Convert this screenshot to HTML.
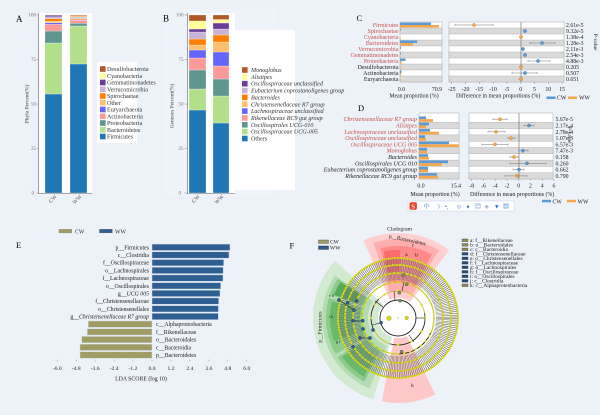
<!DOCTYPE html>
<html><head><meta charset="utf-8"><style>
html,body{margin:0;padding:0;background:#edf1f8;}
svg{display:block;}
text{font-family:"Liberation Serif","Noto Serif CJK SC",serif;}
</style></head><body>
<svg width="600" height="419" viewBox="0 0 600 419" xmlns="http://www.w3.org/2000/svg">
<rect x="0" y="0" width="600" height="419" fill="#edf1f8"/>
<rect x="0" y="415" width="600" height="4" fill="#ffffff"/>
<rect x="162" y="8" width="115" height="190" fill="#eef2f9" stroke="#e6eaf2" stroke-width="0.5"/>

<!-- ================= PANEL A ================= -->
<text x="16" y="22" font-size="9">A</text>
<rect x="39" y="13" width="53" height="180" fill="#fff"/>
<line x1="38.5" y1="13" x2="38.5" y2="193.5" stroke="#8a8a8a" stroke-width="0.8"/>
<line x1="38" y1="193.5" x2="92" y2="193.5" stroke="#8a8a8a" stroke-width="0.8"/>
<g stroke="#8a8a8a" stroke-width="0.5">
<line x1="36.5" y1="15" x2="38.5" y2="15"/><line x1="36.5" y1="59.5" x2="38.5" y2="59.5"/><line x1="36.5" y1="104" x2="38.5" y2="104"/><line x1="36.5" y1="148.5" x2="38.5" y2="148.5"/><line x1="36.5" y1="193" x2="38.5" y2="193"/>
</g>
<g font-size="5" fill="#777" text-anchor="end">
<text x="36" y="16.7">100</text><text x="36" y="61.2">75</text><text x="36" y="105.7">50</text><text x="36" y="150.2">25</text><text x="34" y="194.7">0</text>
</g>
<text transform="translate(28.5,104) rotate(-90)" font-size="5.5" fill="#444" text-anchor="middle">Phyla Percent(%)</text>
<g stroke="#fff" stroke-width="0.25">
<rect x="45" y="94" width="17" height="99" fill="#1f78b4"/>
<rect x="45" y="43" width="17" height="51" fill="#b2df8a"/>
<rect x="45" y="31" width="17" height="12" fill="#5f968f"/>
<rect x="45" y="24.3" width="17" height="6.7" fill="#fb9a99"/>
<rect x="45" y="22.7" width="17" height="1.6" fill="#6666ff"/>
<rect x="45" y="21.3" width="17" height="1.4" fill="#fdbf6f"/>
<rect x="45" y="18.7" width="17" height="2.6" fill="#ff7f00"/>
<rect x="45" y="16.7" width="17" height="2" fill="#cab2d6"/>
<rect x="45" y="15.2" width="17" height="1.5" fill="#6a3d9a"/>
<rect x="45" y="15" width="17" height="0.3" fill="#b15928"/>
<rect x="70" y="64" width="17" height="129" fill="#1f78b4"/>
<rect x="70" y="26" width="17" height="38" fill="#b2df8a"/>
<rect x="70" y="23.3" width="17" height="2.7" fill="#5f968f"/>
<rect x="70" y="20.2" width="17" height="3.1" fill="#fb9a99"/>
<rect x="70" y="19.7" width="17" height="0.5" fill="#6666ff"/>
<rect x="70" y="18.7" width="17" height="1" fill="#ff7f00"/>
<rect x="70" y="17.9" width="17" height="0.8" fill="#cab2d6"/>
<rect x="70" y="17.3" width="17" height="0.6" fill="#6a3d9a"/>
<rect x="70" y="16" width="17" height="1.3" fill="#fdbf6f"/>
<rect x="70" y="15" width="17" height="1" fill="#d9864a"/>
</g>
<g font-size="5.5" fill="#555" text-anchor="end">
<text transform="translate(57,197) rotate(-45)">CW</text>
<text transform="translate(82,197) rotate(-45)">WW</text>
</g>
<!-- legend A -->
<rect x="97" y="62" width="40" height="81" fill="#fff"/>
<g font-size="6.1" fill="#333">
<rect x="100" y="66.2" width="5.6" height="5.6" fill="#b15928"/><text x="107" y="71">Desulfobacterota</text>
<rect x="100" y="72.95" width="5.6" height="5.6" fill="#ffff99"/><text x="107" y="77.75">Cyanobacteria</text>
<rect x="100" y="79.7" width="5.6" height="5.6" fill="#6a3d9a"/><text x="107" y="84.5">Gemmatimonadetes</text>
<rect x="100" y="86.45" width="5.6" height="5.6" fill="#cab2d6"/><text x="107" y="91.25">Verrucomicrobia</text>
<rect x="100" y="93.2" width="5.6" height="5.6" fill="#ff7f00"/><text x="107" y="98">Spirochaetae</text>
<rect x="100" y="99.95" width="5.6" height="5.6" fill="#fdbf6f"/><text x="107" y="104.75">Other</text>
<rect x="100" y="106.7" width="5.6" height="5.6" fill="#6666ff"/><text x="107" y="111.5">Euryarchaeota</text>
<rect x="100" y="113.45" width="5.6" height="5.6" fill="#fb9a99"/><text x="107" y="118.25">Actinobacteria</text>
<rect x="100" y="120.2" width="5.6" height="5.6" fill="#5f968f"/><text x="107" y="125">Proteobacteria</text>
<rect x="100" y="126.95" width="5.6" height="5.6" fill="#b2df8a"/><text x="107" y="131.75">Bacteroidetes</text>
<rect x="100" y="133.7" width="5.6" height="5.6" fill="#1f78b4"/><text x="107" y="138.5">Firmicutes</text>
</g>

<!-- ================= PANEL B ================= -->
<text x="163" y="21.5" font-size="9">B</text>
<rect x="188" y="13" width="47" height="180" fill="#fff"/>
<rect x="235" y="30" width="60" height="160" fill="#fff"/>
<line x1="187.5" y1="13" x2="187.5" y2="193.5" stroke="#8a8a8a" stroke-width="0.8"/>
<line x1="187" y1="193.5" x2="235" y2="193.5" stroke="#8a8a8a" stroke-width="0.8"/>
<g stroke="#8a8a8a" stroke-width="0.5">
<line x1="184.5" y1="15" x2="187.5" y2="15"/><line x1="184.5" y1="59.5" x2="187.5" y2="59.5"/><line x1="184.5" y1="104" x2="187.5" y2="104"/><line x1="184.5" y1="148.5" x2="187.5" y2="148.5"/><line x1="184.5" y1="193" x2="187.5" y2="193"/>
</g>
<g font-size="5" fill="#777" text-anchor="end">
<text x="183.5" y="16.7">100</text><text x="183.5" y="61.2">75</text><text x="183.5" y="105.7">50</text><text x="183.5" y="150.2">25</text><text x="181" y="194.7">0</text>
</g>
<text transform="translate(173.5,106) rotate(-90)" font-size="5.5" fill="#444" text-anchor="middle">Genuses Percent(%)</text>
<g stroke="#fff" stroke-width="0.25">
<rect x="189" y="110" width="17" height="83" fill="#1f78b4"/>
<rect x="189" y="89" width="17" height="21" fill="#b2df8a"/>
<rect x="189" y="70" width="17" height="19" fill="#5f968f"/>
<rect x="189" y="58" width="17" height="12" fill="#fb9a99"/>
<rect x="189" y="50" width="17" height="8" fill="#6666ff"/>
<rect x="189" y="45" width="17" height="5" fill="#fdbf6f"/>
<rect x="189" y="39" width="17" height="6" fill="#ff7f00"/>
<rect x="189" y="32" width="17" height="7" fill="#cab2d6"/>
<rect x="189" y="29" width="17" height="3" fill="#6a3d9a"/>
<rect x="189" y="21" width="17" height="8" fill="#ffff99"/>
<rect x="189" y="15" width="17" height="6" fill="#b15928"/>
<rect x="213" y="123" width="16" height="70" fill="#1f78b4"/>
<rect x="213" y="96" width="16" height="27" fill="#b2df8a"/>
<rect x="213" y="79" width="16" height="17" fill="#5f968f"/>
<rect x="213" y="66" width="16" height="13" fill="#fb9a99"/>
<rect x="213" y="52" width="16" height="14" fill="#6666ff"/>
<rect x="213" y="42" width="16" height="10" fill="#fdbf6f"/>
<rect x="213" y="35" width="16" height="7" fill="#ff7f00"/>
<rect x="213" y="29" width="16" height="6" fill="#cab2d6"/>
<rect x="213" y="23" width="16" height="6" fill="#6a3d9a"/>
<rect x="213" y="19.5" width="16" height="3.5" fill="#ffff99"/>
<rect x="213" y="15" width="16" height="4.5" fill="#b15928"/>
</g>
<g font-size="5.5" fill="#555" text-anchor="end">
<text transform="translate(200,197) rotate(-45)">CW</text>
<text transform="translate(224,197) rotate(-45)">WW</text>
</g>
<g font-size="6.1" fill="#333" font-style="italic">
<rect x="242" y="67.2" width="5.6" height="5.6" fill="#b15928"/><text x="251" y="72">Monoglobus</text>
<rect x="242" y="74.05" width="5.6" height="5.6" fill="#ffff99"/><text x="251" y="78.85">Alistipes</text>
<rect x="242" y="80.9" width="5.6" height="5.6" fill="#6a3d9a"/><text x="251" y="85.7">Oscillospiraceae unclassified</text>
<rect x="242" y="87.75" width="5.6" height="5.6" fill="#cab2d6"/><text x="251" y="92.55">Eubacterium coprostanoligenes group</text>
<rect x="242" y="94.6" width="5.6" height="5.6" fill="#ff7f00"/><text x="251" y="99.4">Bacteroides</text>
<rect x="242" y="101.45" width="5.6" height="5.6" fill="#fdbf6f"/><text x="251" y="106.25">Christensenellaceae R7 group</text>
<rect x="242" y="108.3" width="5.6" height="5.6" fill="#6666ff"/><text x="251" y="113.1">Lachnospiraceae unclassified</text>
<rect x="242" y="115.15" width="5.6" height="5.6" fill="#fb9a99"/><text x="251" y="119.95">Rikenellaceae RC9 gut group</text>
<rect x="242" y="122" width="5.6" height="5.6" fill="#5f968f"/><text x="251" y="126.8">Oscillospirales UCG-010</text>
<rect x="242" y="128.85" width="5.6" height="5.6" fill="#b2df8a"/><text x="251" y="133.65">Oscillospiraceae UCG-005</text>
<rect x="242" y="135.7" width="5.6" height="5.6" fill="#1f78b4"/><text x="251" y="140.5" font-style="normal">Others</text>
</g>

<!-- legend for E -->
<rect x="59" y="229.3" width="12.7" height="3.6" fill="#a09d64" stroke="#777" stroke-width="0.3"/>
<text x="75" y="233.6" font-size="5.8" fill="#333">CW</text>
<rect x="99.5" y="229.3" width="12.8" height="3.6" fill="#2d5f92" stroke="#555" stroke-width="0.3"/>
<text x="115" y="233.6" font-size="5.8" fill="#333">WW</text>

<!-- ================= PANEL C ================= -->
<text x="356.5" y="21" font-size="8.5">C</text>
<rect x="400" y="22" width="42" height="60" fill="#fff" stroke="#999" stroke-width="0.4"/>
<rect x="449" y="22" width="115" height="60" fill="#fff" stroke="#999" stroke-width="0.4"/>
<g fill="#dadada" stroke="#a8a8a8" stroke-width="0.4">
<rect x="400" y="28" width="42" height="6"/><rect x="400" y="40" width="42" height="6"/><rect x="400" y="52" width="42" height="6"/><rect x="400" y="64" width="42" height="6"/><rect x="400" y="76" width="42" height="6"/>
<rect x="449" y="28" width="115" height="6"/><rect x="449" y="40" width="115" height="6"/><rect x="449" y="52" width="115" height="6"/><rect x="449" y="64" width="115" height="6"/><rect x="449" y="76" width="115" height="6"/>
</g>
<g>
<rect x="400" y="22.5" width="31" height="2.5" fill="#5b9bd5"/><rect x="400" y="25" width="39" height="2.5" fill="#f5a54a"/>
<rect x="400" y="28.5" width="0.7" height="2.5" fill="#5b9bd5"/>
<rect x="400" y="37" width="0.7" height="2.5" fill="#f5a54a"/>
<rect x="400" y="40.5" width="17" height="2.5" fill="#5b9bd5"/><rect x="400" y="43" width="13" height="2.5" fill="#f5a54a"/>
<rect x="400" y="46.5" width="0.9" height="2.5" fill="#5b9bd5"/>
<rect x="400" y="52.5" width="0.7" height="2.5" fill="#5b9bd5"/>
<rect x="400" y="58.5" width="5.5" height="2.5" fill="#5b9bd5"/><rect x="400" y="61" width="1.5" height="2.5" fill="#f5a54a"/>
<rect x="400" y="67" width="0.6" height="2.5" fill="#f5a54a"/>
<rect x="400" y="70.5" width="1.5" height="2.5" fill="#5b9bd5"/><rect x="400" y="73" width="1" height="2.5" fill="#f5a54a"/>
<rect x="400" y="79" width="0.6" height="2.5" fill="#f5a54a"/>
</g>
<g font-size="6" text-anchor="end">
<text x="398.5" y="27" fill="#c8504e">Firmicutes</text>
<text x="398.5" y="33" fill="#c8504e">Spirochaetae</text>
<text x="398.5" y="39" fill="#c8504e">Cyanobacteria</text>
<text x="398.5" y="45" fill="#c8504e">Bacteroidetes</text>
<text x="398.5" y="51" fill="#c8504e">Verrucomicrobia</text>
<text x="398.5" y="57" fill="#c8504e">Gemmatimonadetes</text>
<text x="398.5" y="63" fill="#c8504e">Proteobacteria</text>
<text x="398.5" y="69" fill="#222">Desulfobacterota</text>
<text x="398.5" y="75" fill="#222">Actinobacteria</text>
<text x="398.5" y="81" fill="#222">Euryarchaeota</text>
</g>
<line x1="521" y1="22" x2="521" y2="82" stroke="#666" stroke-width="0.6"/>
<g stroke="#777" stroke-width="0.5">
<line x1="455" y1="25" x2="493" y2="25"/><line x1="455" y1="24" x2="455" y2="26"/><line x1="493" y1="24" x2="493" y2="26"/>
<line x1="530" y1="43" x2="555" y2="43"/><line x1="530" y1="42" x2="530" y2="44"/><line x1="555" y1="42" x2="555" y2="44"/>
<line x1="528" y1="61" x2="550" y2="61"/><line x1="528" y1="60" x2="528" y2="62"/><line x1="550" y1="60" x2="550" y2="62"/>
<line x1="512" y1="73" x2="537" y2="73"/><line x1="512" y1="72" x2="512" y2="74"/><line x1="537" y1="72" x2="537" y2="74"/>
<line x1="518" y1="79" x2="523" y2="79"/><line x1="523" y1="55" x2="527" y2="55"/><line x1="519" y1="67" x2="523" y2="67"/>
</g>
<g stroke-width="0.4">
<circle cx="474" cy="25" r="1.6" fill="#f5a54a" stroke="#c77d20"/>
<circle cx="525" cy="31" r="1.6" fill="#5b9bd5" stroke="#3a6f9e"/>
<circle cx="521" cy="37" r="1.6" fill="#f5a54a" stroke="#c77d20"/>
<circle cx="542" cy="43" r="1.6" fill="#5b9bd5" stroke="#3a6f9e"/>
<circle cx="523" cy="49" r="1.6" fill="#5b9bd5" stroke="#3a6f9e"/>
<circle cx="525" cy="55" r="1.6" fill="#5b9bd5" stroke="#3a6f9e"/>
<circle cx="538" cy="61" r="1.6" fill="#5b9bd5" stroke="#3a6f9e"/>
<circle cx="521" cy="67" r="1.6" fill="#f5a54a" stroke="#c77d20"/>
<circle cx="525" cy="73" r="1.6" fill="#5b9bd5" stroke="#3a6f9e"/>
<circle cx="521" cy="79" r="1.6" fill="#f5a54a" stroke="#c77d20"/>
</g>
<g font-size="5.8" fill="#222">
<text x="566" y="27">2.61e-5</text><text x="566" y="33">9.32e-5</text><text x="566" y="39">1.38e-4</text><text x="566" y="45">1.28e-3</text><text x="566" y="51">2.11e-3</text><text x="566" y="57">2.54e-3</text><text x="566" y="63">4.88e-3</text><text x="566" y="69">0.205</text><text x="566" y="75">0.507</text><text x="566" y="81">0.651</text>
</g>
<text transform="translate(594,42) rotate(90)" font-size="5.5" fill="#222" text-anchor="middle">P-value</text>
<g stroke="#777" stroke-width="0.4">
<line x1="451.7" y1="82" x2="451.7" y2="84"/><line x1="465.5" y1="82" x2="465.5" y2="84"/><line x1="479.3" y1="82" x2="479.3" y2="84"/><line x1="493.1" y1="82" x2="493.1" y2="84"/><line x1="506.9" y1="82" x2="506.9" y2="84"/><line x1="520.7" y1="82" x2="520.7" y2="84"/><line x1="534.5" y1="82" x2="534.5" y2="84"/><line x1="548.3" y1="82" x2="548.3" y2="84"/><line x1="562.1" y1="82" x2="562.1" y2="84"/>
</g>
<g font-size="5.8" fill="#222" text-anchor="middle">
<text x="401.5" y="91">0.0</text><text x="437" y="91">70.9</text>
<text x="451.7" y="91">-25</text><text x="465.5" y="91">-20</text><text x="479.3" y="91">-15</text><text x="493.1" y="91">-10</text><text x="506.9" y="91">-5</text><text x="520.7" y="91">0</text><text x="534.5" y="91">5</text><text x="548.3" y="91">10</text><text x="562.1" y="91">15</text>
<text x="414" y="97.5">Mean proportion (%)</text>
</g>
<text x="456" y="97.5" font-size="5.9" fill="#222">Difference in mean proportions (%)</text>
<rect x="546.5" y="96.5" width="9" height="2.5" fill="#5b9bd5"/><text x="557" y="99.5" font-size="5.8" fill="#222">CW</text>
<rect x="568" y="96.5" width="9" height="2.5" fill="#f5a54a"/><text x="579" y="99.5" font-size="5.8" fill="#222">WW</text>

<!-- ================= PANEL D ================= -->
<text x="358" y="111" font-size="8.5">D</text>
<rect x="419" y="113" width="40" height="66" fill="#fff" stroke="#999" stroke-width="0.4"/>
<rect x="469" y="113" width="84" height="66" fill="#fff" stroke="#999" stroke-width="0.4"/>
<g fill="#dadada" stroke="#a8a8a8" stroke-width="0.4">
<rect x="419" y="122.3" width="40" height="6.3"/><rect x="419" y="134.9" width="40" height="6.3"/><rect x="419" y="147.5" width="40" height="6.3"/><rect x="419" y="160.1" width="40" height="6.3"/><rect x="419" y="172.7" width="40" height="6.3"/>
<rect x="469" y="122.3" width="84" height="6.3"/><rect x="469" y="134.9" width="84" height="6.3"/><rect x="469" y="147.5" width="84" height="6.3"/><rect x="469" y="160.1" width="84" height="6.3"/><rect x="469" y="172.7" width="84" height="6.3"/>
</g>
<g>
<rect x="419" y="116.4" width="7" height="2.7" fill="#5b9bd5"/><rect x="419" y="119.1" width="14" height="2.7" fill="#f5a54a"/>
<rect x="419" y="122.7" width="10" height="2.7" fill="#5b9bd5"/><rect x="419" y="125.4" width="7" height="2.7" fill="#f5a54a"/>
<rect x="419" y="129" width="11" height="2.7" fill="#5b9bd5"/><rect x="419" y="131.7" width="20" height="2.7" fill="#f5a54a"/>
<rect x="419" y="135.3" width="6" height="2.7" fill="#5b9bd5"/><rect x="419" y="138" width="7" height="2.7" fill="#f5a54a"/>
<rect x="419" y="141.6" width="30" height="2.7" fill="#5b9bd5"/><rect x="419" y="144.3" width="40" height="2.7" fill="#f5a54a"/>
<rect x="419" y="147.9" width="8" height="2.7" fill="#5b9bd5"/><rect x="419" y="150.6" width="8" height="2.7" fill="#f5a54a"/>
<rect x="419" y="154.2" width="9" height="2.7" fill="#5b9bd5"/><rect x="419" y="156.9" width="10" height="2.7" fill="#f5a54a"/>
<rect x="419" y="160.5" width="29" height="2.7" fill="#5b9bd5"/><rect x="419" y="163.2" width="23" height="2.7" fill="#f5a54a"/>
<rect x="419" y="166.8" width="9" height="2.7" fill="#5b9bd5"/><rect x="419" y="169.5" width="9" height="2.7" fill="#f5a54a"/>
<rect x="419" y="173.1" width="18" height="2.7" fill="#5b9bd5"/><rect x="419" y="175.8" width="19" height="2.7" fill="#f5a54a"/>
</g>
<g font-size="6.1" text-anchor="end" font-style="italic">
<text x="417" y="121.2" fill="#c8504e">Christensenellaceae R7 group</text>
<text x="417" y="127.5" fill="#c8504e">Alistipes</text>
<text x="417" y="133.8" fill="#c8504e">Lachnospiraceae unclassified</text>
<text x="417" y="140.1" fill="#c8504e">Oscillospiraceae unclassified</text>
<text x="417" y="146.4" fill="#c8504e">Oscillospiraceae UCG 005</text>
<text x="417" y="152.7" fill="#c8504e">Monoglobus</text>
<text x="417" y="159" fill="#222">Bacteroides</text>
<text x="417" y="165.3" fill="#222">Oscillospirales UCG 010</text>
<text x="417" y="171.6" fill="#222">Eubacterium coprostanoligenes group</text>
<text x="417" y="177.9" fill="#222">Rikenellaceae RC9 gut group</text>
</g>
<line x1="519" y1="113" x2="519" y2="179" stroke="#666" stroke-width="0.6"/>
<g stroke="#777" stroke-width="0.5">
<line x1="493" y1="119.2" x2="507" y2="119.2"/><line x1="493" y1="118.2" x2="493" y2="120.2"/><line x1="507" y1="118.2" x2="507" y2="120.2"/>
<line x1="524" y1="125.5" x2="534" y2="125.5"/><line x1="524" y1="124.5" x2="524" y2="126.5"/><line x1="534" y1="124.5" x2="534" y2="126.5"/>
<line x1="488" y1="131.8" x2="505" y2="131.8"/><line x1="488" y1="130.8" x2="488" y2="132.8"/><line x1="505" y1="130.8" x2="505" y2="132.8"/>
<line x1="508" y1="138.1" x2="515" y2="138.1"/><line x1="508" y1="137.1" x2="508" y2="139.1"/><line x1="515" y1="137.1" x2="515" y2="139.1"/>
<line x1="482" y1="144.4" x2="508" y2="144.4"/><line x1="482" y1="143.4" x2="482" y2="145.4"/><line x1="508" y1="143.4" x2="508" y2="145.4"/>
<line x1="519" y1="150.7" x2="528" y2="150.7"/><line x1="519" y1="149.7" x2="519" y2="151.7"/><line x1="528" y1="149.7" x2="528" y2="151.7"/>
<line x1="510" y1="157" x2="518" y2="157"/><line x1="510" y1="156" x2="510" y2="158"/><line x1="518" y1="156" x2="518" y2="158"/>
<line x1="510" y1="163.3" x2="546" y2="163.3"/><line x1="510" y1="162.3" x2="510" y2="164.3"/><line x1="546" y1="162.3" x2="546" y2="164.3"/>
<line x1="513" y1="169.6" x2="524" y2="169.6"/><line x1="513" y1="168.6" x2="513" y2="170.6"/><line x1="524" y1="168.6" x2="524" y2="170.6"/>
<line x1="505" y1="175.9" x2="527" y2="175.9"/><line x1="505" y1="174.9" x2="505" y2="176.9"/><line x1="527" y1="174.9" x2="527" y2="176.9"/>
</g>
<g stroke-width="0.4">
<circle cx="500" cy="119.2" r="1.6" fill="#f5a54a" stroke="#c77d20"/>
<circle cx="529" cy="125.5" r="1.6" fill="#5b9bd5" stroke="#3a6f9e"/>
<circle cx="496" cy="131.8" r="1.6" fill="#f5a54a" stroke="#c77d20"/>
<circle cx="511" cy="138.1" r="1.6" fill="#f5a54a" stroke="#c77d20"/>
<circle cx="495" cy="144.4" r="1.6" fill="#f5a54a" stroke="#c77d20"/>
<circle cx="523" cy="150.7" r="1.6" fill="#5b9bd5" stroke="#3a6f9e"/>
<circle cx="514" cy="157" r="1.6" fill="#f5a54a" stroke="#c77d20"/>
<circle cx="527" cy="163.3" r="1.6" fill="#5b9bd5" stroke="#3a6f9e"/>
<circle cx="519" cy="169.6" r="1.6" fill="#5b9bd5" stroke="#3a6f9e"/>
<circle cx="517" cy="175.9" r="1.6" fill="#f5a54a" stroke="#c77d20"/>
</g>
<g font-size="5.8" fill="#222">
<text x="555.5" y="121.2">5.67e-5</text><text x="555.5" y="127.5">2.17e-4</text><text x="555.5" y="133.8">2.78e-4</text><text x="555.5" y="140.1">1.07e-3</text><text x="555.5" y="146.4">6.57e-3</text><text x="555.5" y="152.7">7.47e-3</text><text x="555.5" y="159">0.158</text><text x="555.5" y="165.3">0.260</text><text x="555.5" y="171.6">0.662</text><text x="555.5" y="177.9">0.790</text>
</g>
<text transform="translate(568,135) rotate(90)" font-size="5.5" fill="#222" text-anchor="middle">P-value</text>
<g stroke="#777" stroke-width="0.4">
<line x1="471.7" y1="179" x2="471.7" y2="181"/><line x1="483.5" y1="179" x2="483.5" y2="181"/><line x1="495.2" y1="179" x2="495.2" y2="181"/><line x1="507" y1="179" x2="507" y2="181"/><line x1="518.7" y1="179" x2="518.7" y2="181"/><line x1="530.5" y1="179" x2="530.5" y2="181"/><line x1="542.2" y1="179" x2="542.2" y2="181"/><line x1="554" y1="179" x2="554" y2="181"/>
</g>
<g font-size="5.8" fill="#222" text-anchor="middle">
<text x="421" y="187.7">0.0</text><text x="456" y="187.7">15.4</text>
<text x="471.7" y="187.7">-8</text><text x="483.5" y="187.7">-6</text><text x="495.2" y="187.7">-4</text><text x="507" y="187.7">-2</text><text x="518.7" y="187.7">0</text><text x="530.5" y="187.7">2</text><text x="542.2" y="187.7">4</text><text x="554" y="187.7">6</text>
<text x="435" y="196">Mean proportion (%)</text>
</g>
<text x="470" y="196" font-size="5.9" fill="#222">Difference in mean proportions (%)</text>
<rect x="542" y="199.8" width="9" height="2.5" fill="#5b9bd5"/><text x="552.5" y="203.3" font-size="5.8" fill="#222">CW</text>
<rect x="567" y="199.8" width="9" height="2.5" fill="#f5a54a"/><text x="577.5" y="203.3" font-size="5.8" fill="#222">WW</text>

<!-- toolbar -->
<rect x="408" y="201" width="106" height="10" fill="#fff" stroke="#c5cfe2" stroke-width="0.5"/>
<rect x="409.5" y="202.3" width="7.4" height="7.4" rx="1.6" fill="#e8442d"/>
<text x="413.2" y="208.6" font-size="6.5" font-weight="bold" fill="#fff" text-anchor="middle" font-family="'Liberation Sans',sans-serif">S</text>
<g font-size="6" fill="#2a72d8" text-anchor="middle" font-family="'DejaVu Sans','Noto Sans CJK SC',sans-serif">
<text x="426.7" y="208.3" font-family="'Noto Sans CJK SC',sans-serif">中</text>
<text x="437.7" y="208.3">☽</text>
<text x="446.7" y="208.3">•,</text>
<text x="459" y="208.3">☺</text>
<text x="468" y="208.3">♦</text>
<text x="478" y="208.3">▤</text>
<text x="486.7" y="208.3" fill="#9aa8bd">♣</text>
<text x="496.7" y="208.3">▼</text>
<text x="506" y="208.3">▦</text>
</g>

<!-- ================= PANEL E ================= -->
<text x="16" y="248" font-size="8.5">E</text>
<g fill="#2d5f92" stroke="#d4dbe7" stroke-width="0.5">
<rect x="152" y="244.1" width="78" height="6.4"/>
<rect x="152" y="251.8" width="77" height="6.4"/>
<rect x="152" y="259.5" width="71.7" height="6.4"/>
<rect x="152" y="267.2" width="71.2" height="6.4"/>
<rect x="152" y="274.9" width="71" height="6.4"/>
<rect x="152" y="282.6" width="68.7" height="6.4"/>
<rect x="152" y="290.2" width="68" height="6.4"/>
<rect x="152" y="297.9" width="66.7" height="6.4"/>
<rect x="152" y="305.6" width="66.4" height="6.4"/>
<rect x="152" y="313.3" width="66.3" height="6.4"/>
</g>
<g fill="#a09d64" stroke="#d4dbe7" stroke-width="0.5">
<rect x="88.3" y="321" width="63.7" height="6.4"/>
<rect x="87.3" y="328.7" width="64.7" height="6.4"/>
<rect x="81.7" y="336.4" width="70.3" height="6.4"/>
<rect x="80" y="344.1" width="72" height="6.4"/>
<rect x="80" y="351.8" width="72" height="6.4"/>
</g>
<g font-size="5.8" fill="#222" text-anchor="end">
<text x="149" y="249.3">p__Firmicutes</text>
<text x="149" y="257">c__Clostridia</text>
<text x="149" y="264.7">f__Oscillospiraceae</text>
<text x="149" y="272.4">o__Lachnospirales</text>
<text x="149" y="280.1">f__Lachnospiraceae</text>
<text x="149" y="287.8">o__Oscillospirales</text>
<text x="149" y="295.4">g__<tspan font-style="italic">UCG 005</tspan></text>
<text x="149" y="303.1">f__Christensenellaceae</text>
<text x="149" y="310.8">o__Christensenellales</text>
<text x="149" y="318.5">g__<tspan font-style="italic">Christensenellaceae R7 group</tspan></text>
</g>
<g font-size="5.8" fill="#222">
<text x="156" y="326.2">c__Alphaproteobacteria</text>
<text x="156" y="333.9">f__Rikenellaceae</text>
<text x="156" y="341.6">o__Bacteroidales</text>
<text x="156" y="349.3">c__Bacteroidia</text>
<text x="156" y="357">p__Bacteroidetes</text>
</g>
<g stroke="#888" stroke-width="0.4">
<line x1="57.2" y1="359.5" x2="57.2" y2="361.5"/><line x1="76.2" y1="359.5" x2="76.2" y2="361.5"/><line x1="95.1" y1="359.5" x2="95.1" y2="361.5"/><line x1="114.1" y1="359.5" x2="114.1" y2="361.5"/><line x1="133" y1="359.5" x2="133" y2="361.5"/><line x1="152" y1="359.5" x2="152" y2="361.5"/><line x1="171" y1="359.5" x2="171" y2="361.5"/><line x1="189.9" y1="359.5" x2="189.9" y2="361.5"/><line x1="208.9" y1="359.5" x2="208.9" y2="361.5"/><line x1="227.8" y1="359.5" x2="227.8" y2="361.5"/><line x1="246.8" y1="359.5" x2="246.8" y2="361.5"/>
</g>
<g font-size="5.6" fill="#222" text-anchor="middle">
<text x="57.2" y="370">-6.0</text><text x="76.2" y="370">-4.8</text><text x="95.1" y="370">-3.6</text><text x="114.1" y="370">-2.4</text><text x="133" y="370">-1.2</text><text x="152" y="370">0.0</text><text x="171" y="370">1.2</text><text x="189.9" y="370">2.4</text><text x="208.9" y="370">3.6</text><text x="227.8" y="370">4.8</text><text x="246.8" y="370">6.0</text>
<text x="141" y="380.5" font-size="5.8">LDA SCORE (log 10)</text>
</g>

<!-- ================= PANEL F ================= -->
<text x="289.5" y="248.5" font-size="8.5">F</text>
<rect x="318.5" y="240" width="10" height="3.4" fill="#a09d64" stroke="#444" stroke-width="0.4"/>
<text x="330" y="243.6" font-size="5.5" fill="#222">CW</text>
<rect x="318.5" y="246" width="10" height="3.4" fill="#2d5f92" stroke="#222" stroke-width="0.4"/>
<text x="330" y="249.6" font-size="5.5" fill="#222">WW</text>
<text x="399.5" y="230.5" font-size="5.6" fill="#222" text-anchor="middle">Cladogram</text>

<!-- cladogram -->
<circle cx="398" cy="318" r="61" fill="#fff"/>
<g fill="none">
<circle cx="398" cy="318" r="52.5" stroke="#d2e9d2" stroke-width="65" stroke-dasharray="105.4 1000" transform="rotate(107 398 318)"/>
<circle cx="398" cy="318" r="53" stroke="#b3dcb3" stroke-width="46" stroke-dasharray="94.3 1000" transform="rotate(112 398 318)"/>
<circle cx="398" cy="318" r="54" stroke="#8ccb8c" stroke-width="36" stroke-dasharray="43.4 1000" transform="rotate(150 398 318)"/>
<circle cx="398" cy="318" r="56.5" stroke="#6ab86a" stroke-width="23" stroke-dasharray="33.5 1000" transform="rotate(160 398 318)"/>
<circle cx="398" cy="318" r="54" stroke="#8ccb8c" stroke-width="36" stroke-dasharray="27.3 1000" transform="rotate(118 398 318)"/>
<circle cx="398" cy="318" r="56.5" stroke="#6ab86a" stroke-width="23" stroke-dasharray="24.6 1000" transform="rotate(120 398 318)"/>
<circle cx="398" cy="318" r="54" stroke="#8ccb8c" stroke-width="36" stroke-dasharray="13.2 1000" transform="rotate(199 398 318)"/>
<circle cx="398" cy="318" r="56.5" stroke="#57aa57" stroke-width="23" stroke-dasharray="11.8 1000" transform="rotate(200 398 318)"/>
<circle cx="398" cy="318" r="52.5" stroke="#ffcfcf" stroke-width="65" stroke-dasharray="55.9 1000" transform="rotate(246 398 318)"/>
<circle cx="398" cy="318" r="53" stroke="#ffaeae" stroke-width="52" stroke-dasharray="45.3 1000" transform="rotate(252 398 318)"/>
<circle cx="398" cy="318" r="54" stroke="#ff8a8a" stroke-width="36" stroke-dasharray="39.6 1000" transform="rotate(256 398 318)"/>
<circle cx="398" cy="318" r="56.5" stroke="#ff6a6a" stroke-width="23" stroke-dasharray="13.8 1000" transform="rotate(258 398 318)"/>
<circle cx="398" cy="318" r="52.5" stroke="#ffc8c8" stroke-width="65" stroke-dasharray="33.9 1000" transform="rotate(64 398 318)"/>
<!-- hatch -->
<circle cx="398" cy="318" r="49" stroke="#707070" stroke-width="22" stroke-dasharray="0.6 1.0035"/>
<!-- rings -->
<circle cx="398" cy="318" r="60" stroke="#c0c020" stroke-width="1.6"/>
<circle cx="398" cy="318" r="53" stroke="#c0c020" stroke-width="1.4"/>
<circle cx="398" cy="318" r="45" stroke="#c0c020" stroke-width="1.4"/>
<circle cx="398" cy="318" r="36" stroke="#c0c020" stroke-width="1.1"/>
<circle cx="398" cy="318" r="27" stroke="#bcbc30" stroke-width="0.8"/>
<circle cx="398" cy="318" r="18" stroke="#222" stroke-width="0.9"/>
<circle cx="398" cy="318" r="27" stroke="#222" stroke-width="0.8" stroke-dasharray="55 1000" transform="rotate(-10 398 318)"/>
<circle cx="398" cy="318" r="36" stroke="#222" stroke-width="0.8" stroke-dasharray="40 1000" transform="rotate(25 398 318)"/>
<circle cx="398" cy="318" r="27" stroke="#222" stroke-width="0.8" stroke-dasharray="35 1000" transform="rotate(150 398 318)"/>
<!-- dots -->
<circle cx="398" cy="318" r="60" stroke="#dede1a" stroke-width="2" stroke-linecap="round" stroke-dasharray="0 3.1416"/>
<circle cx="398" cy="318" r="53" stroke="#dede1a" stroke-width="2" stroke-linecap="round" stroke-dasharray="0 3.7"/>
<circle cx="398" cy="318" r="45" stroke="#dede1a" stroke-width="2" stroke-linecap="round" stroke-dasharray="0 4.417"/>
<circle cx="398" cy="318" r="36" stroke="#dede1a" stroke-width="2.2" stroke-linecap="round" stroke-dasharray="0 6.283"/>
<circle cx="398" cy="318" r="27" stroke="#dede1a" stroke-width="2.4" stroke-linecap="round" stroke-dasharray="0 14.137"/>
</g>
<g stroke="#222" stroke-width="0.6">
<line x1="416" y1="318" x2="425" y2="318"/><line x1="409" y1="335" x2="414" y2="342"/><line x1="380" y1="323" x2="372" y2="325"/><line x1="395" y1="300" x2="394" y2="291"/><line x1="402" y1="291" x2="404" y2="282"/><line x1="383" y1="307" x2="375" y2="301"/>
<line x1="363" y1="321" x2="353" y2="321"/><line x1="370" y1="338" x2="360" y2="338"/><line x1="354" y1="310" x2="339" y2="300"/>
</g>
<g fill="#d6d61e" stroke="#a0a010" stroke-width="0.4">
<circle cx="389" cy="318.3" r="2.3"/><circle cx="406.7" cy="318" r="1.8"/>
</g>
<circle cx="398" cy="318" r="0.5" fill="#666"/>
<g fill="#2f5f96" stroke="#1a2f4a" stroke-width="0.4">
<circle cx="381" cy="322.7" r="1.6"/><circle cx="362.7" cy="320.7" r="1.6"/><circle cx="353" cy="320.7" r="1.6"/><circle cx="347.7" cy="302.7" r="1.6"/><circle cx="354" cy="310" r="1.6"/><circle cx="360" cy="338" r="1.6"/><circle cx="370" cy="338" r="1.6"/><circle cx="373" cy="330" r="1.6"/><circle cx="353" cy="346.7" r="1.6"/><circle cx="363" cy="329" r="1.6"/><circle cx="356.7" cy="301" r="1.6"/><circle cx="339" cy="300" r="1.6"/>
</g>
<g fill="#8c8c5a" stroke="#444" stroke-width="0.4">
<circle cx="400" cy="300.7" r="1.6"/><circle cx="399.3" cy="292.7" r="1.6"/><circle cx="406.7" cy="284.3" r="1.6"/><circle cx="403.3" cy="275" r="1.6"/><circle cx="401.7" cy="351.7" r="1.6"/>
</g>
<g font-size="5.4" fill="#222">
<text transform="translate(407,241.5) rotate(12)" text-anchor="middle">p__Bacteroidetes</text>
<text x="413" y="246.5" text-anchor="middle">c</text>
<text x="406.5" y="256" text-anchor="middle">a</text>
<text x="416.5" y="256.5" text-anchor="middle">b</text>
<text x="412.5" y="387" text-anchor="middle">k</text>
<text transform="translate(321.5,327) rotate(-90)" text-anchor="middle">p__Firmicutes</text>
<text x="329" y="297" font-size="4">e d</text>
<text x="329" y="318" font-size="4">i h</text>
<text x="336" y="343" font-size="4">g f</text>
</g>

<!-- F legend -->
<g stroke="#333" stroke-width="0.3">
<rect x="462" y="239" width="6" height="2.6" fill="#8d8a55"/>
<rect x="462" y="243.5" width="6" height="2.6" fill="#8d8a55"/>
<rect x="462" y="248" width="6" height="2.6" fill="#8d8a55"/>
<rect x="462" y="252.5" width="6" height="2.6" fill="#234d7d"/>
<rect x="462" y="257" width="6" height="2.6" fill="#234d7d"/>
<rect x="462" y="261.5" width="6" height="2.6" fill="#234d7d"/>
<rect x="462" y="266" width="6" height="2.6" fill="#234d7d"/>
<rect x="462" y="270.5" width="6" height="2.6" fill="#234d7d"/>
<rect x="462" y="275" width="6" height="2.6" fill="#234d7d"/>
<rect x="462" y="279.5" width="6" height="2.6" fill="#234d7d"/>
<rect x="462" y="284" width="6" height="2.6" fill="#8d8a55"/>
</g>
<g font-size="5.4" fill="#222">
<text x="470" y="242">a: f__Rikenellaceae</text>
<text x="470" y="246.5">b: o__Bacteroidales</text>
<text x="470" y="251">c: c__Bacteroidia</text>
<text x="470" y="255.5">d: f__Christensenellaceae</text>
<text x="470" y="260">e: o__Christensenellales</text>
<text x="470" y="264.5">f: f__Lachnospiraceae</text>
<text x="470" y="269">g: o__Lachnospirales</text>
<text x="470" y="273.5">h: f__Oscillospiraceae</text>
<text x="470" y="278">i: o__Oscillospirales</text>
<text x="470" y="282.5">j: c__Clostridia</text>
<text x="470" y="287">k: c__Alphaproteobacteria</text>
</g>
</svg>
</body></html>
